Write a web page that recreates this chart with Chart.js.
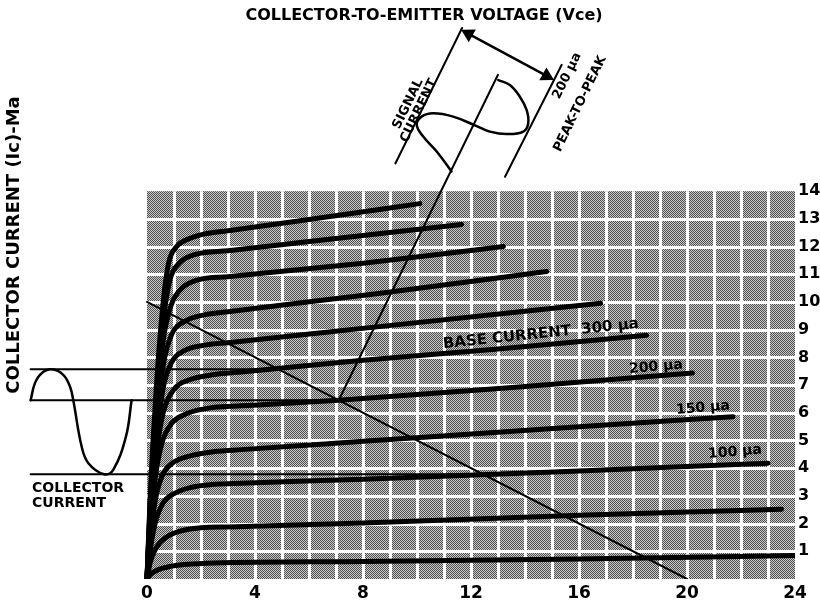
<!DOCTYPE html>
<html>
<head>
<meta charset="utf-8">
<script src="https://cdn.jsdelivr.net/npm/chart.js@4.4.1/dist/chart.umd.min.js"></script>
<style>
  html, body { margin: 0; padding: 0; background: #fff; }
  #wrap { width: 820px; height: 603px; position: relative; }
</style>
</head>
<body>
<div id="wrap"><canvas id="curves"></canvas></div>
<script>
// tick labels
const vceTicks = [0, 4, 8, 12, 16, 20, 24];
const icTicks = [1, 2, 3, 4, 5, 6, 7, 8, 9, 10, 11, 12, 13, 14];

// collector characteristic curves, [Vce (V), Ic (mA)], bottom to top
const ic1 = [[0,0],[0.15,0.18],[0.4,0.33],[0.8,0.44],[1.4,0.52],[2.5,0.58],[8,0.63],[16,0.72],[24,0.85]];
const ic2 = [[0,0],[0.12,0.6],[0.35,1.15],[0.7,1.5],[1.2,1.72],[2,1.85],[3,1.88],[8,2.02],[16,2.3],[23.5,2.52]];
const ic3 = [[0,0],[0.1,0.9],[0.3,2.0],[0.6,2.75],[1.0,3.08],[1.6,3.3],[2.5,3.42],[3.5,3.46],[8,3.6],[16,3.9],[23,4.18]];
const ic4 = [[0,0],[0.1,1.2],[0.3,2.8],[0.55,3.7],[0.9,4.15],[1.5,4.42],[2.5,4.6],[3.5,4.67],[8,4.97],[16,5.5],[21.7,5.86]];
const ic5 = [[0,0],[0.1,1.5],[0.3,3.6],[0.55,4.9],[0.9,5.6],[1.5,5.98],[2.5,6.2],[3.5,6.25],[7.1,6.45],[14,6.95],[20.2,7.44]];
const ic6 = [[0,0],[0.12,2.0],[0.35,4.5],[0.6,6.0],[1.0,6.85],[1.6,7.2],[2.5,7.38],[3.5,7.47],[8,7.9],[13,8.3],[18.5,8.8]];
const ic7 = [[0,0],[0.12,2.2],[0.35,5.0],[0.6,6.9],[0.9,7.8],[1.4,8.25],[2.2,8.45],[3,8.53],[8.6,9.11],[16.8,9.95]];
const ic8 = [[0,0],[0.12,2.4],[0.35,5.5],[0.6,7.7],[0.9,8.8],[1.4,9.3],[2.2,9.55],[3,9.65],[8.5,10.3],[14.8,11.1]];
const ic9 = [[0,0],[0.12,2.6],[0.35,6.0],[0.6,8.6],[0.9,9.9],[1.3,10.5],[1.9,10.8],[3,10.91],[8,11.4],[13.2,12.0]];
const ic10 = [[0,0],[0.12,2.8],[0.35,6.5],[0.6,9.3],[0.85,10.8],[1.2,11.4],[1.8,11.72],[3,11.85],[6,12.18],[11.65,12.8]];
const ic11 = [[0,0],[0.12,3.0],[0.35,7.0],[0.6,10.0],[0.8,11.4],[1.1,12.0],[1.6,12.3],[2.1,12.45],[3,12.57],[6,12.98],[10.1,13.55]];
const curves = [ic1, ic2, ic3, ic4, ic5, ic6, ic7, ic8, ic9, ic10, ic11];

// load line and operating point
const loadLine = [[0,10],[20,0]];
const qPoint = [7.1, 6.45];

// collector current waveform on the left (output swing)
const outSine = [[-4.31,6.45],[-4.15,7.07],[-3.9,7.43],[-3.53,7.57],[-3.1,7.37],[-2.85,6.94],[-2.73,6.45],
                 [-2.42,4.78],[-2.17,4.18],[-1.59,3.78],[-1.25,3.94],[-0.78,5.14],[-0.57,6.45]];
const outTop = [[-4.31,7.57],[4.86,7.57]];
const outMid = [[-4.31,6.45],qPoint];
const outBot = [[-4.31,3.78],[12.45,3.78]];

// base signal waveform drawn along the projection from Q (upper)
const sigAxis = [qPoint,[13.0,18.2]];
const sigLeft = [[11.67,19.89],[9.2,15.0]];
const sigRight = [[15.36,18.56],[13.26,14.52]];
const sigSine = [[11.28,14.71],[10.73,15.43],[10.23,15.97],[9.99,16.39],[10.17,16.69],[10.6,16.81],[11.34,16.69],
                 [12.21,16.35],[12.7,16.15],[13.32,16.06],[13.94,16.15],[14.12,16.45],[14.06,16.93],[13.81,17.41],
                 [13.44,17.83],[13.01,18.01]];
const sigArrow = [[11.91,19.68],[14.8,18.16]];

const XMIN = -5.444, XMAX = 24, YMIN = 0, YMAX = 20.9;
const FONT = '"DejaVu Sans", sans-serif';

const pts = a => a.map(([x, y]) => ({x, y}));
const line = (data, w, extra) => Object.assign({
  data: pts(data), showLine: true, borderColor: '#000', borderWidth: w,
  pointRadius: 0, fill: false, tension: 0, borderCapStyle: 'round'
}, extra || {});

const datasets = [];
curves.forEach(c => datasets.push(line(c, 5, {cubicInterpolationMode: 'monotone', borderJoinStyle: 'round'})));
datasets.push(line(loadLine, 2));
[outTop, outMid, outBot].forEach(l => datasets.push(line(l, 2)));
datasets.push(line(outSine, 2.5, {tension: 0.4}));
[sigAxis, sigLeft, sigRight].forEach(l => datasets.push(line(l, 2)));
datasets.push(line(sigSine, 2.5, {tension: 0.4}));
datasets.push(line(sigArrow, 2.5, {
  pointRadius: 6, pointStyle: 'triangle', pointRotation: [298.7, 118.7],
  pointBackgroundColor: '#000', pointBorderColor: '#000'
}));

function hatchPattern(ctx) {
  const c = document.createElement('canvas');
  c.width = 2; c.height = 2;
  const g = c.getContext('2d');
  g.fillStyle = '#c8c8c8'; g.fillRect(0, 0, 2, 2);
  g.fillStyle = '#505050'; g.fillRect(0, 0, 1, 1); g.fillRect(1, 1, 1, 1);
  return ctx.createPattern(c, 'repeat');
}

const paperGrid = {
  id: 'paperGrid',
  beforeDatasetsDraw(chart) {
    const {ctx, scales: {x, y}} = chart;
    const l = x.getPixelForValue(0), r = x.getPixelForValue(24);
    const t = y.getPixelForValue(14), b = y.getPixelForValue(0);
    ctx.save();
    ctx.fillStyle = hatchPattern(ctx);
    ctx.fillRect(l, t, r - l, b - t);
    ctx.strokeStyle = '#fff';
    ctx.lineWidth = 3;
    ctx.beginPath();
    for (let v = 1; v < 24; v++) {
      const p = Math.round(x.getPixelForValue(v)) + 0.5;
      ctx.moveTo(p, t); ctx.lineTo(p, b);
    }
    for (let i = 1; i < 14; i++) {
      const p = Math.round(y.getPixelForValue(i)) + 0.5;
      ctx.moveTo(l, p); ctx.lineTo(r, p);
    }
    ctx.stroke();
    ctx.restore();
  }
};

function text(ctx, s, X, Y, deg, font, align) {
  ctx.save();
  ctx.translate(X, Y);
  ctx.rotate(deg * Math.PI / 180);
  ctx.font = font;
  ctx.fillStyle = '#000';
  ctx.textAlign = align || 'center';
  ctx.textBaseline = 'middle';
  ctx.fillText(s, 0, 0);
  ctx.restore();
}

const labels = {
  id: 'labels',
  afterDatasetsDraw(chart) {
    const {ctx, scales: {x, y}} = chart;
    const at = (v, i) => [x.getPixelForValue(v), y.getPixelForValue(i)];
    const f13 = 'bold 13px ' + FONT, f14 = 'bold 14px ' + FONT, f15 = 'bold 15px ' + FONT;
    const f16 = 'bold 16px ' + FONT, f18 = 'bold 18px ' + FONT;

    text(ctx, 'COLLECTOR-TO-EMITTER VOLTAGE (Vce)', 424, 16, 0, f16);
    text(ctx, 'COLLECTOR CURRENT (Ic)-Ma', 14, 245, -90, f18);
    text(ctx, 'COLLECTOR', 32, 488, 0, f14, 'left');
    text(ctx, 'CURRENT', 32, 503, 0, f14, 'left');

    text(ctx, 'BASE CURRENT  300 µa', ...at(14.59, 8.84), -6, f15);
    text(ctx, '200 µa', ...at(18.85, 7.65), -5, f14);
    text(ctx, '150 µa', ...at(20.59, 6.17), -5, f14);
    text(ctx, '100 µa', ...at(21.78, 4.58), -5, f14);

    const slant = -64.1;
    text(ctx, 'SIGNAL', ...at(9.67, 17.15), slant, f13);
    text(ctx, 'CURRENT', ...at(10.07, 16.9), slant, f13);
    text(ctx, '200 µa', ...at(15.56, 18.16), slant, f13);
    text(ctx, 'PEAK-TO-PEAK', ...at(16.04, 17.15), slant, f13);
  }
};

new Chart(document.getElementById('curves'), {
  type: 'scatter',
  data: { datasets },
  plugins: [paperGrid, labels],
  options: {
    responsive: true,
    maintainAspectRatio: false,
    animation: false,
    layout: { padding: 0, autoPadding: false },
    plugins: {
      legend: { display: false },
      tooltip: { enabled: false },
      title: { display: false }
    },
    scales: {
      x: {
        type: 'linear', position: 'bottom', min: XMIN, max: XMAX,
        grid: { display: false, drawTicks: false }, border: { display: false },
        afterBuildTicks: s => { s.ticks = vceTicks.map(v => ({value: v})); },
        afterFit: s => { s.height = 24; s.paddingLeft = 0; s.paddingRight = 0; },
        ticks: { autoSkip: false, maxRotation: 0, padding: 4, color: '#000',
                 font: { family: FONT, size: 17, weight: 'bold' } }
      },
      y: {
        type: 'linear', position: 'right', min: YMIN, max: YMAX,
        grid: { display: false, drawTicks: false }, border: { display: false },
        afterBuildTicks: s => { s.ticks = icTicks.map(v => ({value: v})); },
        afterFit: s => { s.width = 25; s.paddingTop = 0; s.paddingBottom = 0; },
        ticks: { autoSkip: false, padding: 3, color: '#000',
                 font: { family: FONT, size: 16, weight: 'bold' } }
      }
    }
  }
});
</script>
</body>
</html>
